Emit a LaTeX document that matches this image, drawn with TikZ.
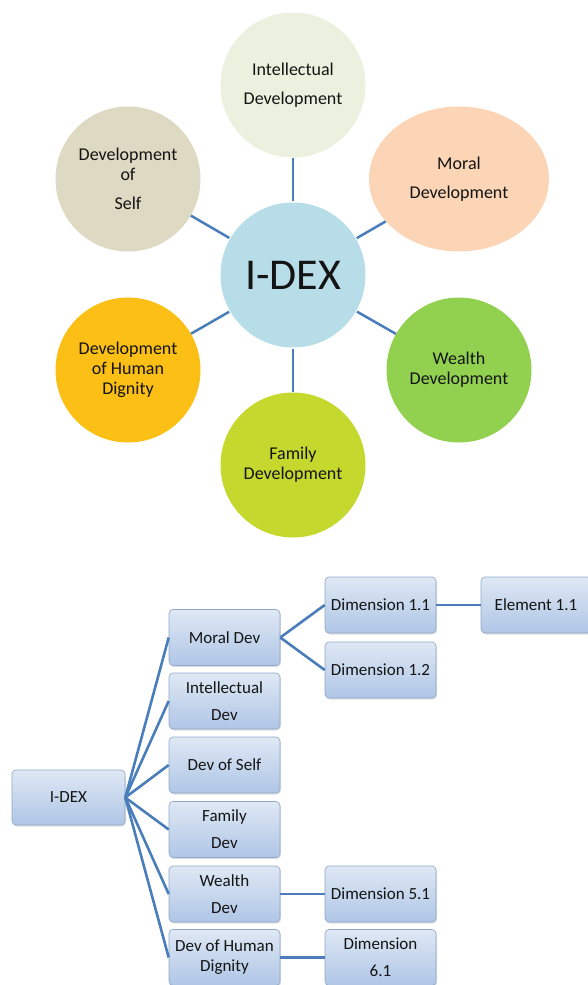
\documentclass[tikz,border=0pt]{standalone}
\usepackage{fontspec}
\setmainfont{Carlito}
\usetikzlibrary{shapes.geometric,shadows}
\definecolor{linkblue}{HTML}{4A7EBB}
\definecolor{intelc}{HTML}{EBF1DE}
\definecolor{selfc}{HTML}{DDD9C3}
\definecolor{moralc}{HTML}{FBD5B5}
\definecolor{idexc}{HTML}{B7DDE8}
\definecolor{dignc}{HTML}{FBBF16}
\definecolor{wealthc}{HTML}{92D050}
\definecolor{familyc}{HTML}{C4D82D}
\definecolor{boxtop}{HTML}{DFE8F4}
\definecolor{boxbot}{HTML}{AFC6E6}
\definecolor{boxline}{HTML}{8FA6C8}
\definecolor{inkc}{HTML}{141414}
\tikzset{
	circ/.style={ellipse,inner sep=0pt,minimum width=145pt,minimum height=145pt,
		align=center,text=inkc,font=\fontsize{18}{29}\selectfont},
	tight/.style={font=\fontsize{18}{20}\selectfont},
	link/.style={draw=linkblue,line width=2.5pt},
	tbox/.style={rectangle,rounded corners=4pt,draw=boxline,line width=0.6pt,
		top color=boxtop,bottom color=boxbot,inner sep=0pt,
		minimum width=111pt,minimum height=56pt,align=center,text=inkc,
		font=\fontsize{17}{27}\selectfont,
		drop shadow={opacity=0.25,shadow xshift=1pt,shadow yshift=-1.5pt}},
	tlink/.style={draw=linkblue,line width=2.6pt}
}
\begin{document}
\begin{tikzpicture}[x=1pt,y=-1pt]
		\useasboundingbox (0,0) rectangle (588,985);
		% circles
		\node[circ,fill=idexc,font=\fontsize{44}{44}\selectfont] (C0) at (293,275) {I-DEX};
		\node[circ,fill=intelc] (C1) at (293,85) {Intellectual\\Development};
		\node[circ,fill=moralc,minimum width=180pt] (C2) at (459,179) {Moral\\Development};
		\node[circ,fill=wealthc,tight] (C3) at (459,370) {Wealth\\Development};
		\node[circ,fill=familyc,tight] (C4) at (293,465) {Family\\Development};
		\node[circ,fill=dignc,tight] (C5) at (128,370) {Development\\of Human\\Dignity};
		\node[circ,fill=selfc] (C6) at (128,179) {Development\\[-9pt]of\\Self};
		\foreach \i in {1,...,6}
			\draw[link,shorten <=1pt] (C0)--(C\i);
		% tree
		\node[tbox,minimum width=113pt,minimum height=55pt] (T0) at (68.5,797.5) {I-DEX};
		\node[tbox] (M) at (224.5,637.5) {Moral Dev};
		\node[tbox] (I) at (224.5,701) {Intellectual\\Dev};
		\node[tbox] (S) at (224.5,765) {Dev of Self};
		\node[tbox] (F) at (224.5,829.5) {Family\\Dev};
		\node[tbox] (W) at (224.5,894) {Wealth\\Dev};
		\node[tbox,font=\fontsize{17}{20}\selectfont] (H) at (224.5,957.5) {Dev of Human\\Dignity};
		\node[tbox] (M1) at (380.5,605) {Dimension 1.1};
		\node[tbox] (M2) at (380.5,670) {Dimension 1.2};
		\node[tbox] (W1) at (380.5,894) {Dimension 5.1};
		\node[tbox] (H1) at (380.5,957.5) {Dimension\\6.1};
		\node[tbox,minimum width=110pt] (E1) at (536,605) {Element 1.1};
		\foreach \n in {M,I,S,F,W,H}
			\draw[tlink] (T0.east)--(\n.west);
		\draw[tlink] (M.east)--(M1.west);
		\draw[tlink] (M.east)--(M2.west);
		\draw[tlink] (M1.east)--(E1.west);
		\draw[tlink] (W.east)--(W1.west);
		\draw[tlink] (H.east)--(H1.west);
	\end{tikzpicture}
\end{document}
